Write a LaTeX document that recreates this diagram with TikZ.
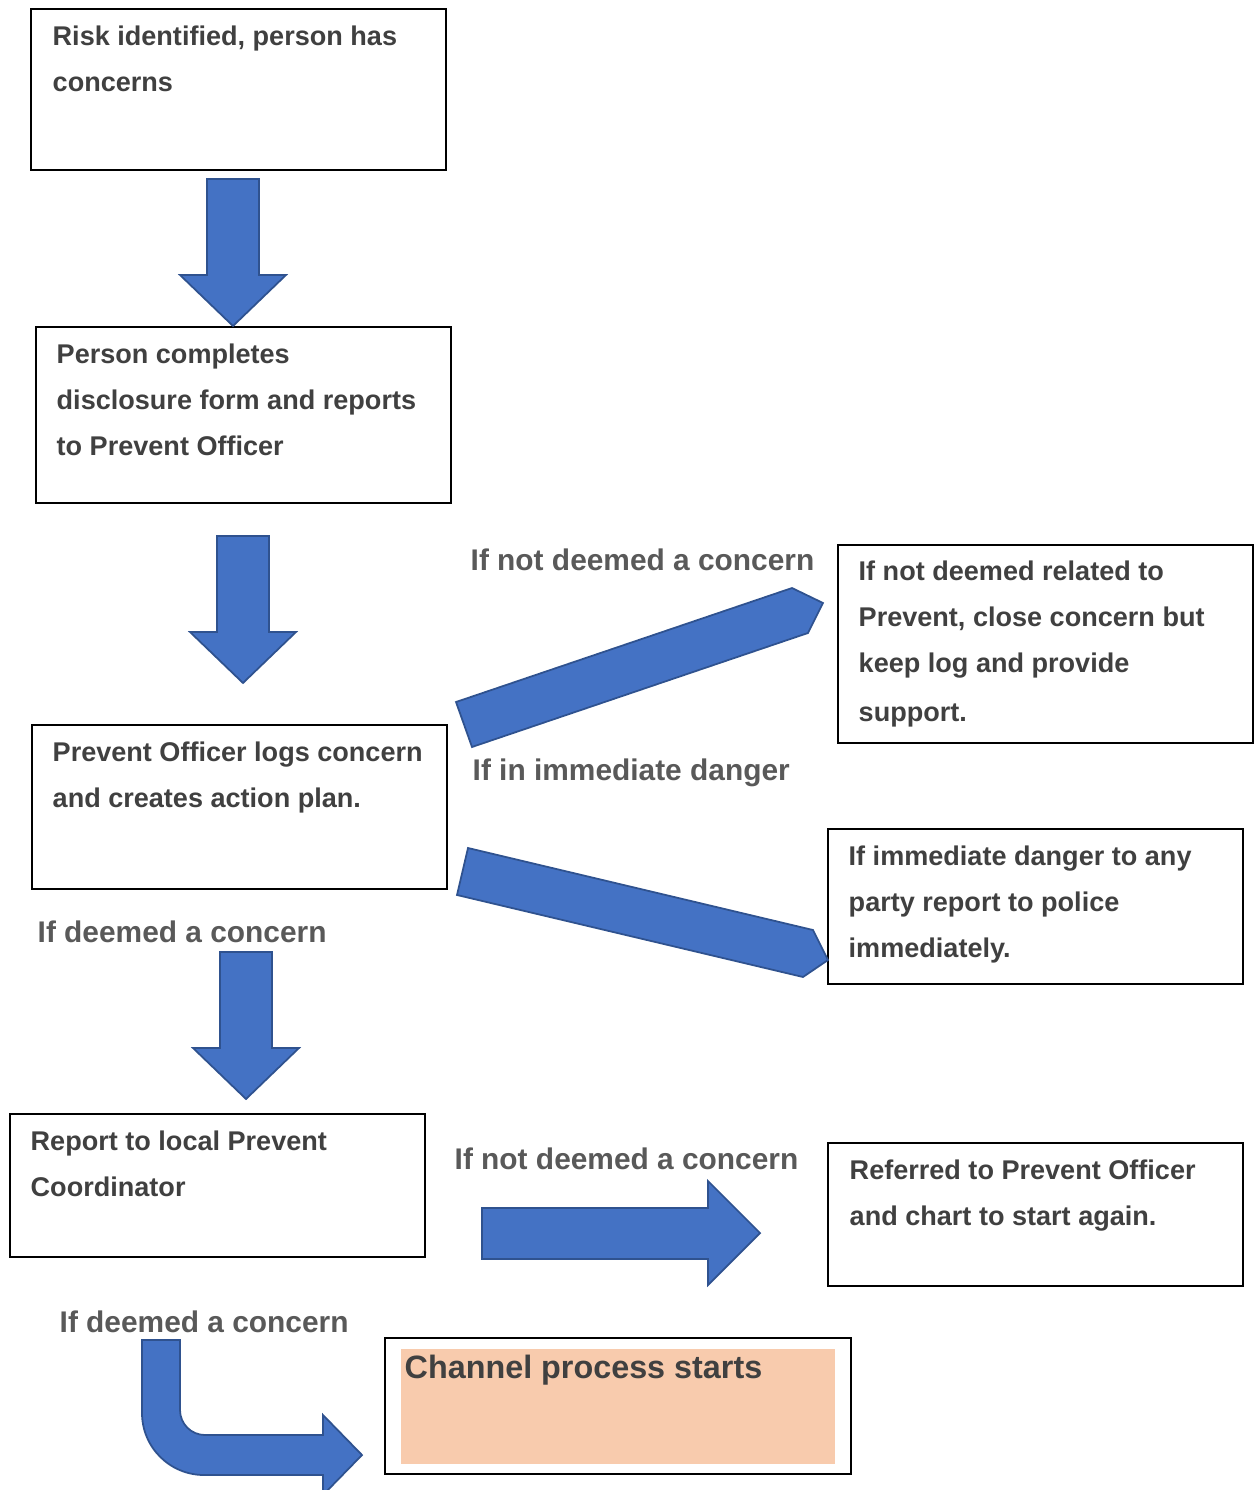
\documentclass[tikz,border=0pt]{standalone}
\usepackage{fontspec}
\setmainfont{Liberation Sans}
\usetikzlibrary{positioning}
\definecolor{arrowblue}{HTML}{4472C4}
\definecolor{arrowedge}{HTML}{2F528F}
\definecolor{boxtext}{HTML}{404040}
\definecolor{labelgray}{HTML}{595959}
\definecolor{peach}{HTML}{F8CBAD}
\tikzset{
  stepbox/.style={draw=black,line width=0.6pt,anchor=north west,minimum width=4.15cm,inner sep=0pt},
  boxtxt/.style={inner sep=0pt,align=left,text=boxtext,font=\bfseries\fontsize{7.7}{13.1}\selectfont},
  cond/.style={inner sep=0pt,anchor=base west,text=labelgray,font=\bfseries\fontsize{8.5}{10}\selectfont},
  blockarrow/.style={fill=arrowblue,draw=arrowedge,line width=0.5pt,line join=miter}
}
\begin{document}
\begin{tikzpicture}
  \useasboundingbox (0,0) rectangle (12.54,-14.90);
  % left column
  \node[stepbox,minimum height=1.61cm] (risk) at (0.30,-0.08) {};
  \node[boxtxt,below right=0.17cm and 0.22cm of risk.north west] {Risk identified, person has\\concerns};
  \node[stepbox,minimum height=1.76cm] (disclose) at (0.35,-3.26) {};
  \node[boxtxt,below right=0.17cm and 0.21cm of disclose.north west] {Person completes\\disclosure form and reports\\to Prevent Officer};
  \node[stepbox,minimum height=1.64cm] (logs) at (0.31,-7.24) {};
  \node[boxtxt,below right=0.17cm and 0.21cm of logs.north west] {Prevent Officer logs concern\\and creates action plan.};
  \node[stepbox,minimum height=1.43cm] (coord) at (0.09,-11.13) {};
  \node[boxtxt,below right=0.17cm and 0.21cm of coord.north west] {Report to local Prevent\\Coordinator};
  % right column
  \node[stepbox,minimum height=1.98cm] (closecase) at (8.37,-5.44) {};
  \node[boxtxt,below right=0.16cm and 0.21cm of closecase.north west] {If not deemed related to\\Prevent, close concern but\\keep log and provide\\[1pt]support.};
  \node[stepbox,minimum height=1.55cm] (police) at (8.27,-8.28) {};
  \node[boxtxt,below right=0.17cm and 0.21cm of police.north west] {If immediate danger to any\\party report to police\\immediately.};
  \node[stepbox,minimum height=1.43cm] (referred) at (8.27,-11.42) {};
  \node[boxtxt,below right=0.17cm and 0.22cm of referred.north west] {Referred to Prevent Officer\\and chart to start again.};
  % channel
  \node[stepbox,minimum width=4.66cm,minimum height=1.36cm] (channel) at (3.84,-13.37) {};
  \node[fill=peach,minimum width=4.34cm,minimum height=1.15cm,inner sep=0pt] (chfill) at (channel.center) {};
  \node[inner sep=0pt,anchor=base west,text=boxtext,font=\bfseries\fontsize{9.2}{11}\selectfont] (chtext) at (4.04,-13.78) {Channel process starts};
  % conditions
  \node[cond] (notc1) at (4.70,-5.70) {If not deemed a concern};
  \node[cond] (danger) at (4.72,-7.80) {If in immediate danger};
  \node[cond] (isc1) at (0.37,-9.42) {If deemed a concern};
  \node[cond] (notc2) at (4.54,-11.69) {If not deemed a concern};
  \node[cond] (isc2) at (0.59,-13.32) {If deemed a concern};
  % down arrows
  \foreach \x/\y in {2.33/-1.79,2.43/-5.36,2.46/-9.52}
    \draw[blockarrow] (\x-0.26,\y) -- ++(0.52,0) -- ++(0,-0.96) -- ++(0.27,0)
      -- ++(-0.53,-0.51) -- ++(-0.53,0.51) -- ++(0.27,0) -- cycle;
  % side arrows
  \draw[blockarrow] (4.56,-7.02) -- (7.92,-5.88) -- (8.23,-6.03) -- (8.08,-6.33) -- (4.72,-7.47) -- cycle;
  \draw[blockarrow] (4.68,-8.48) -- (8.13,-9.30) -- (8.28,-9.60) -- (8.03,-9.77) -- (4.57,-8.95) -- cycle;
  \draw[blockarrow] (4.82,-12.08) -- (7.08,-12.08) -- (7.08,-11.81) -- (7.60,-12.33)
    -- (7.08,-12.85) -- (7.08,-12.59) -- (4.82,-12.59) -- cycle;
  % bent arrow
  \draw[blockarrow] (1.42,-13.40) -- (1.80,-13.40) -- (1.80,-14.10)
    arc[start angle=180,end angle=270,radius=0.25] -- (3.23,-14.35) -- (3.23,-14.15)
    -- (3.62,-14.55) -- (3.23,-14.95) -- (3.23,-14.75) -- (2.04,-14.75)
    arc[start angle=270,end angle=180,radius=0.62] -- cycle;
\end{tikzpicture}
\end{document}
